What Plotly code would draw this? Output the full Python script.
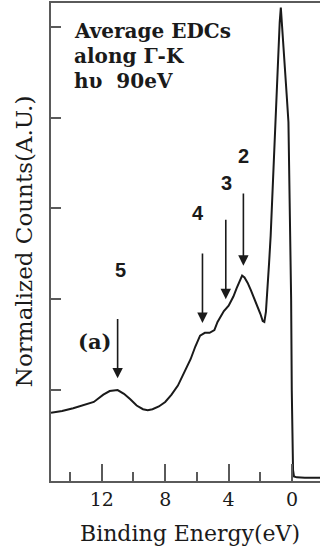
import plotly.graph_objects as go

# Average EDC along Γ-K at hν = 90 eV (binding energy in eV, counts normalized)
binding_energy = [15.2, 14.5, 13.8, 13.0, 12.5, 11.9, 11.5, 11.0, 10.6, 10.2,
                  9.8, 9.4, 9.1, 8.8, 8.4, 8.0, 7.6, 7.2, 6.8, 6.4,
                  6.1, 5.8, 5.5, 5.2, 4.9, 4.7, 4.5, 4.3, 4.0, 3.7,
                  3.5, 3.3, 3.15, 3.0, 2.8, 2.6, 2.4, 2.2, 2.0, 1.85,
                  1.75, 1.65, 1.55, 1.45, 1.35, 1.25, 1.15, 1.05, 0.95, 0.85,
                  0.78, 0.71, 0.62, 0.52, 0.42, 0.33, 0.23, 0.13, 0.06, 0.02,
                  -0.02, -0.06, -0.12, -0.3, -0.8, -1.3, -1.76]
counts = [0.75, 0.77, 0.80, 0.84, 0.87, 0.95, 0.99, 1.00, 0.96, 0.90,
          0.83, 0.79, 0.78, 0.79, 0.82, 0.87, 0.95, 1.05, 1.19, 1.34,
          1.48, 1.60, 1.63, 1.63, 1.66, 1.75, 1.81, 1.87, 1.93, 2.03,
          2.12, 2.20, 2.26, 2.24, 2.18, 2.10, 2.02, 1.93, 1.84, 1.76,
          1.75, 1.86, 2.10, 2.40, 2.70, 3.10, 3.60, 4.05, 4.45, 4.85,
          5.05, 5.21, 5.00, 4.75, 4.48, 4.22, 3.95, 3.05, 2.0, 1.0,
          0.4, 0.12, 0.05, 0.04, 0.035, 0.035, 0.035]

# Marked spectral features
feature_labels = ["5", "4", "3", "2"]
feature_energy = [11.0, 5.65, 4.18, 3.07]

x_major = [12, 8, 4, 0]
x_minor = [14, 10, 6, 2]
y_ticks = [0, 1, 2, 3, 4, 5]

# arrow geometry for the feature markers (tip / tail heights, label spot)
arrow_tip = [1.13, 1.74, 2.00, 2.37]
arrow_tail = [1.80, 2.52, 2.89, 3.18]
label_xy = [(10.83, 2.32), (5.92, 2.95), (4.16, 3.28), (3.09, 3.58)]

INK = "#1a1a1a"
AXIS = "#5a5a5a"
SERIF = "DejaVu Serif"

fig = go.Figure()
fig.add_trace(go.Scatter(x=binding_energy, y=counts, mode="lines",
                         line=dict(color=INK, width=2), hoverinfo="skip"))

annotations = []
for lab, e, tip, tail, (lx, ly) in zip(feature_labels, feature_energy,
                                       arrow_tip, arrow_tail, label_xy):
    annotations.append(dict(x=e, y=tip, ax=e, ay=tail, xref="x", yref="y",
                            axref="x", ayref="y", text="", showarrow=True,
                            arrowhead=2, arrowsize=1.3, arrowwidth=1.6,
                            arrowcolor=INK, standoff=0, startstandoff=0))
    annotations.append(dict(x=lx, y=ly, xref="x", yref="y", text=lab,
                            showarrow=False,
                            font=dict(family="Liberation Sans", size=20,
                                      color=INK, weight="bold")))

# header text block
for txt, yp in [("Average EDCs", 0.941), ("along Γ-K", 0.889), ("hυ  90eV", 0.837)]:
    annotations.append(dict(x=0.078, y=yp, xref="paper", yref="paper",
                            xanchor="left", yanchor="middle", text=txt,
                            showarrow=False,
                            font=dict(family=SERIF, size=20, color=INK,
                                      weight="bold")))

annotations.append(dict(x=0.093, y=0.2615, xref="paper", yref="paper",
                        text="(a)", showarrow=False,
                        font=dict(family=SERIF, size=21, color=INK,
                                  weight="bold")))
annotations.append(dict(x=0.517, y=-0.109, xref="paper", yref="paper",
                        text="Binding Energy(eV)", showarrow=False,
                        yanchor="middle",
                        font=dict(family=SERIF, size=22, color=INK)))
annotations.append(dict(x=-0.100, y=0.502, xref="paper", yref="paper",
                        text="Normalized Counts(A.U.)", showarrow=False,
                        textangle=-90, xanchor="center", yanchor="middle",
                        font=dict(family=SERIF, size=23, color=INK)))

fig.update_layout(
    width=320, height=554,
    margin=dict(l=51, r=0, t=3, b=73),
    paper_bgcolor="white", plot_bgcolor="white",
    showlegend=False,
    annotations=annotations,
    xaxis=dict(range=[15.2, -1.76], showline=True, linecolor=AXIS,
               linewidth=2, mirror=True, ticks="inside",
               tickvals=x_major, ticktext=[str(v) for v in x_major],
               ticklen=17, tickwidth=1.5, tickcolor=AXIS,
               tickfont=dict(family=SERIF, size=19, color=INK),
               minor=dict(tickvals=x_minor, ticks="inside", ticklen=9,
                          tickwidth=1.5, tickcolor=AXIS),
               showgrid=False, zeroline=False, fixedrange=True),
    yaxis=dict(range=[0, 5.26], showline=True, linecolor=AXIS, linewidth=2,
               ticks="inside", tickvals=y_ticks, ticklen=10, tickwidth=1.5,
               tickcolor=AXIS, showticklabels=False, showgrid=False,
               zeroline=False, fixedrange=True),
)

fig.write_html("out.html")
